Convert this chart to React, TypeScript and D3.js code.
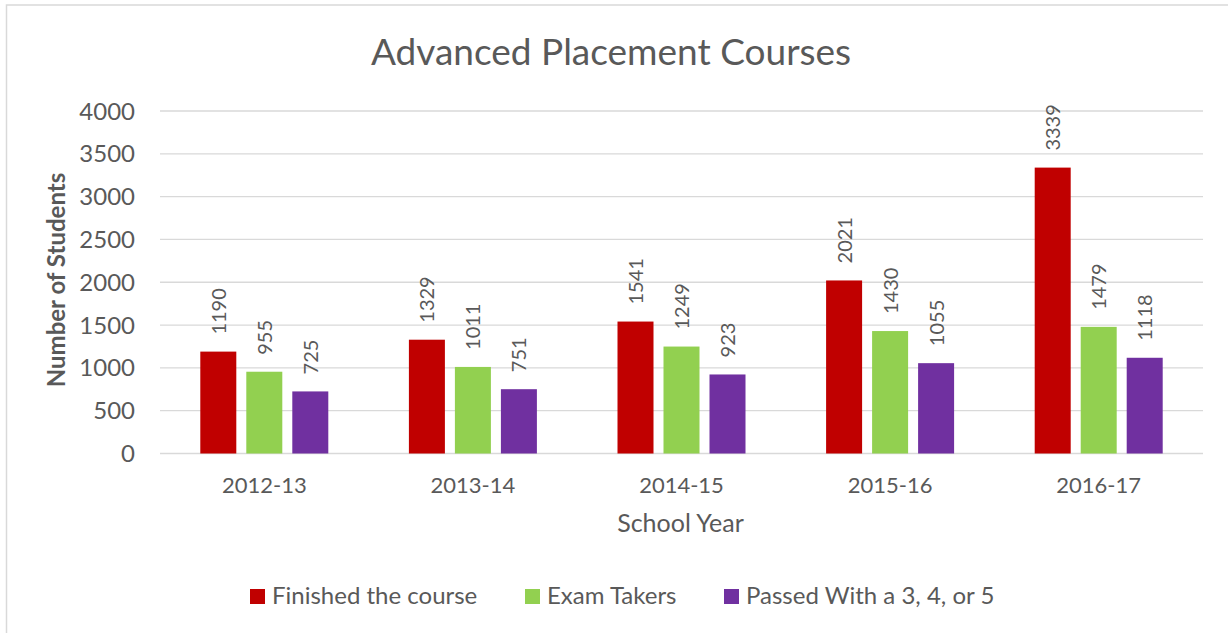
import React from "react";
import * as d3 from "d3";

const categories = ["2012-13", "2013-14", "2014-15", "2015-16", "2016-17"];
const seriesNames = ["Finished the course", "Exam Takers", "Passed With a 3, 4, or 5"];
const finished = [1190, 1329, 1541, 2021, 3339];
const examTakers = [955, 1011, 1249, 1430, 1479];
const passed = [725, 751, 923, 1055, 1118];
const seriesColors = ["#C00000", "#92D050", "#7030A0"];
const yTicks = [0, 500, 1000, 1500, 2000, 2500, 3000, 3500, 4000];

const W = 1228;
const H = 633;
const FONT = "Lato, 'Open Sans', sans-serif";
const TEXT = "#595959";

export default function App() {
  const series = [finished, examTakers, passed];
  const plotLeft = 160;
  const plotRight = 1203;
  const x = d3.scaleBand<string>().domain(categories).range([plotLeft, plotRight]).padding(0);
  const y = d3.scaleLinear().domain([0, 4000]).range([453.5, 111]);
  const barW = 36;
  const barStep = 46;
  const capLabel = 7.5;

  return (
    <svg
      width={W}
      height={H}
      style={{ position: "absolute", left: 0, top: 0, background: "#fff" }}
      fontFamily={FONT}
    >
      <rect x={6.5} y={5} width={W + 20} height={H + 20} fill="#fff" stroke="#D9D9D9" strokeWidth={1.5} />
      <text x={611} y={65} textAnchor="middle" fontSize={37} fill={TEXT}>
        Advanced Placement Courses
      </text>
      {yTicks.map((t) => (
        <g key={t}>
          <line x1={plotLeft} x2={plotRight} y1={y(t)} y2={y(t)} stroke="#D9D9D9" strokeWidth={1.3} />
          <text x={135} y={y(t) + 8.5} textAnchor="end" fontSize={24} fill={TEXT}>
            {t}
          </text>
        </g>
      ))}
      {categories.map((c, i) => {
        const cx = (x(c) as number) + x.bandwidth() / 2;
        return (
          <g key={c}>
            <text x={cx} y={493} textAnchor="middle" fontSize={22} fill={TEXT}>
              {c}
            </text>
            {series.map((s, k) => {
              const bx = cx + (k - 1) * barStep;
              const top = y(s[i]);
              return (
                <g key={k}>
                  <rect
                    x={bx - barW / 2}
                    y={top}
                    width={barW}
                    height={y(0) - top}
                    fill={seriesColors[k]}
                  />
                  <text
                    transform={`translate(${bx + capLabel},${top - 17}) rotate(-90)`}
                    textAnchor="start"
                    fontSize={20}
                    fill={TEXT}
                  >
                    {s[i]}
                  </text>
                </g>
              );
            })}
          </g>
        );
      })}
      <text x={680.5} y={532} textAnchor="middle" fontSize={25} fill={TEXT}>
        School Year
      </text>
      <text
        transform={`translate(65,280) rotate(-90)`}
        textAnchor="middle"
        fontSize={24}
        fontWeight="bold"
        fill={TEXT}
      >
        Number of Students
      </text>
      {[
        { sx: 250, tx: 272 },
        { sx: 525, tx: 547 },
        { sx: 724, tx: 746 },
      ].map((p, k) => (
        <g key={k}>
          <rect x={p.sx} y={589} width={15} height={15} fill={seriesColors[k]} />
          <text x={p.tx} y={604} fontSize={24} fill={TEXT}>
            {seriesNames[k]}
          </text>
        </g>
      ))}
    </svg>
  );
}
